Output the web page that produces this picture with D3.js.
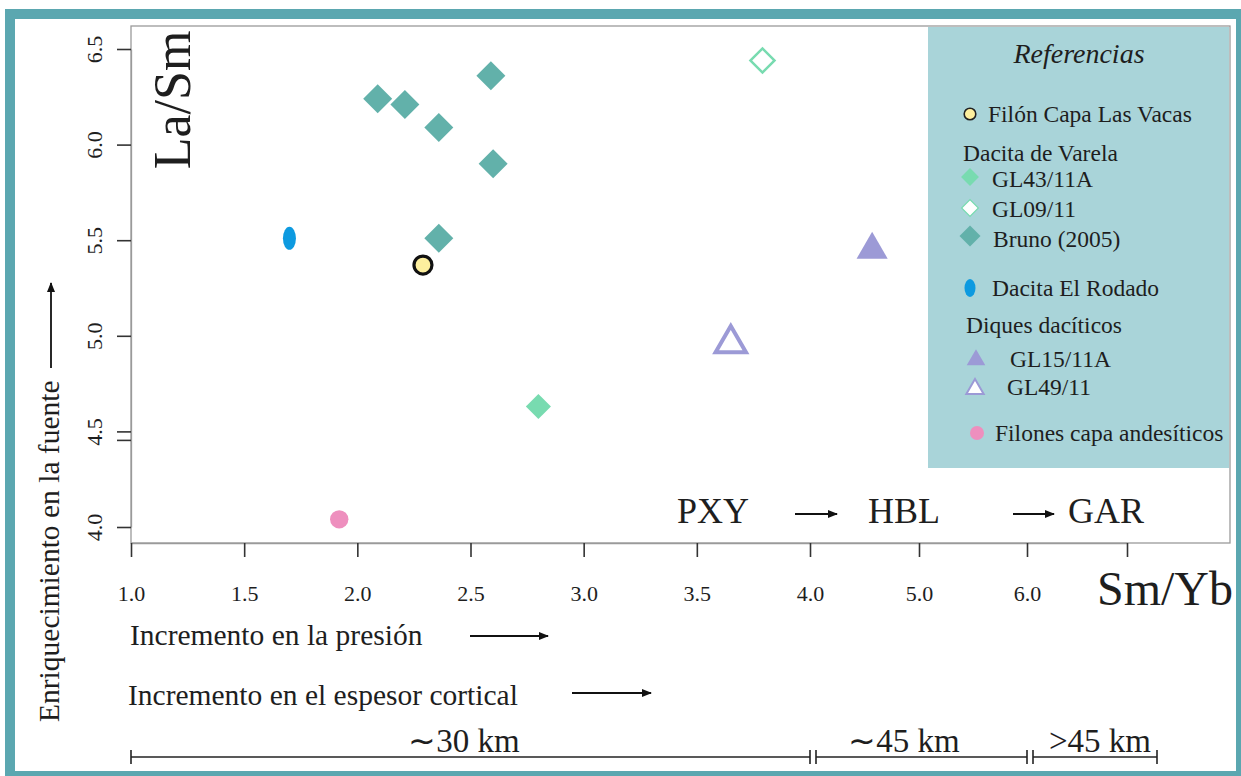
<!DOCTYPE html>
<html>
<head>
<meta charset="utf-8">
<script src="https://cdn.jsdelivr.net/npm/d3@7/dist/d3.min.js"></script>
<style>
  html, body { margin: 0; padding: 0; background: #ffffff; }
  svg { display: block; }
  text { font-family: "Liberation Serif", "Times New Roman", serif; fill: #1e1e1e; }
</style>
</head>
<body>
<svg id="chart" width="1241" height="776"></svg>
<script>
// Sm/Yb (x) vs La/Sm (y) for each group of samples
const filonLasVacas      = [[2.29, 5.37]];
const dacitaElRodado     = [[1.70, 5.51]];
const gl43_11A           = [[2.80, 4.63]];
const gl09_11            = [[3.79, 6.44]];
const bruno2005          = [[2.09, 6.24], [2.21, 6.21], [2.36, 6.09], [2.59, 6.36], [2.60, 5.90], [2.36, 5.51]];
const gl15_11A           = [[4.57, 5.45]];
const gl49_11            = [[3.65, 4.96]];
const filonesAndesiticos = [[1.92, 4.04]];

// Axis ticks
const xTicks      = [1.0, 1.5, 2.0, 2.5, 3.0, 3.5, 4.0, 5.0, 6.0, 7.0];
const xTickLabels = ["1.0", "1.5", "2.0", "2.5", "3.0", "3.5", "4.0", "5.0", "6.0", ""];
const yTicks      = [4.0, 4.5, 5.0, 5.5, 6.0, 6.5];

// Crustal thickness ranges along Sm/Yb
const thicknessBreaks = [1.0, 4.0, 6.0, 7.3];
const thicknessLabels = ["\u223C30 km", "\u223C45 km", ">45 km"];

// Residual mineral sequence
const mineralLabels = ["PXY", "HBL", "GAR"];

const colors = {
  frame: "#5ba7b0",
  legendBg: "#a9d4d9",
  bruno: "#62b1aa",
  varelaGreen: "#78dbb0",
  rodado: "#0d9ae0",
  vacas: "#fdef9e",
  diques: "#9c9ad6",
  andesitic: "#ee8fbe"
};

const svg = d3.select("#chart");
const W = 1241, H = 776;

svg.append("rect").attr("width", W).attr("height", H).attr("fill", "#ffffff");

// arrowhead
svg.append("defs").append("marker")
  .attr("id", "arrow").attr("viewBox", "0 0 10 10")
  .attr("refX", 9).attr("refY", 5)
  .attr("markerWidth", 10).attr("markerHeight", 10)
  .attr("markerUnits", "userSpaceOnUse")
  .attr("orient", "auto")
  .append("path").attr("d", "M0,1 L10,5 L0,9 Z").attr("fill", "#111");

// outer frame
svg.append("rect")
  .attr("x", 10).attr("y", 14).attr("width", 1231).attr("height", 762)
  .attr("fill", "none").attr("stroke", colors.frame).attr("stroke-width", 10);

// scales: Sm/Yb axis is compressed above 4.0
const x = d3.scaleLinear().domain([1, 4, 5, 6, 7]).range([131, 810, 919, 1027, 1127]);
const y = d3.scaleLinear().domain([4, 6.5]).range([527, 49]);

const plot = { left: 131, right: 1230, top: 26, bottom: 543 };

// plot box
svg.append("rect")
  .attr("x", plot.left).attr("y", plot.top)
  .attr("width", plot.right - plot.left).attr("height", plot.bottom - plot.top)
  .attr("fill", "#ffffff").attr("stroke", "#9a9a9a").attr("stroke-width", 1.3);

// x axis
const xAxis = svg.append("g").attr("transform", `translate(0,${plot.bottom})`)
  .call(d3.axisBottom(x).tickValues(xTicks)
    .tickFormat((d, i) => xTickLabels[i]).tickSizeInner(14).tickSizeOuter(0).tickPadding(40));
xAxis.select(".domain").attr("stroke", "#9a9a9a").attr("stroke-width", 1.3);
xAxis.selectAll(".tick line").attr("stroke", "#333").attr("stroke-width", 1.6);
xAxis.selectAll(".tick text")
  .attr("font-family", "Liberation Serif, serif").attr("font-size", 22)
  .attr("fill", "#1e1e1e").attr("dy", "0.2em");

// y axis
const yAxis = svg.append("g").attr("transform", `translate(${plot.left},0)`)
  .call(d3.axisLeft(y).tickValues(yTicks).tickFormat(d3.format(".1f"))
    .tickSizeInner(14).tickSizeOuter(0).tickPadding(0));
yAxis.select(".domain").attr("stroke", "#9a9a9a").attr("stroke-width", 1.3);
yAxis.selectAll(".tick line").attr("stroke", "#333").attr("stroke-width", 1.6);
yAxis.selectAll(".tick text")
  .attr("font-family", "Liberation Serif, serif").attr("font-size", 22).attr("fill", "#1e1e1e")
  .attr("x", null).attr("dy", null)
  .attr("text-anchor", "middle")
  .attr("transform", `translate(-29,0) rotate(-90)`);
// second short tick just under 4.5
yAxis.append("line")
  .attr("x1", -14).attr("x2", 0)
  .attr("y1", y(4.5) + 9).attr("y2", y(4.5) + 9)
  .attr("stroke", "#333").attr("stroke-width", 1.6);

// axis titles
svg.append("text")
  .attr("transform", `translate(190,100) rotate(-90)`)
  .attr("text-anchor", "middle").attr("font-size", 52)
  .text("La/Sm");
svg.append("text")
  .attr("x", 1097).attr("y", 605).attr("font-size", 48)
  .text("Sm/Yb");

// mineral sequence
const mineralX = [677, 868, 1068];
svg.selectAll("text.mineral").data(mineralLabels).join("text")
  .attr("class", "mineral")
  .attr("x", (d, i) => mineralX[i]).attr("y", 523).attr("font-size", 36)
  .text(d => d);
[[795, 837], [1013, 1054]].forEach(([a, b]) => {
  svg.append("line").attr("x1", a).attr("x2", b).attr("y1", 514).attr("y2", 514)
    .attr("stroke", "#111").attr("stroke-width", 1.8).attr("marker-end", "url(#arrow)");
});

// data marks
const diamond = (size) => d3.symbol().type(d3.symbolSquare).size(size)();
const triangle = (size) => d3.symbol().type(d3.symbolTriangle).size(size)();
const pos = d => `translate(${x(d[0])},${y(d[1])})`;

const marks = svg.append("g");

marks.selectAll(".bruno").data(bruno2005).join("path")
  .attr("d", diamond(420))
  .attr("transform", d => pos(d) + " rotate(45)")
  .attr("fill", colors.bruno);

marks.selectAll(".gl43").data(gl43_11A).join("path")
  .attr("d", diamond(315))
  .attr("transform", d => pos(d) + " rotate(45)")
  .attr("fill", colors.varelaGreen);

marks.selectAll(".gl09").data(gl09_11).join("path")
  .attr("d", diamond(290))
  .attr("transform", d => pos(d) + " rotate(45)")
  .attr("fill", "#ffffff").attr("stroke", colors.varelaGreen).attr("stroke-width", 2.5);

marks.selectAll(".rodado").data(dacitaElRodado).join("ellipse")
  .attr("cx", d => x(d[0])).attr("cy", d => y(d[1]))
  .attr("rx", 6.5).attr("ry", 11.5)
  .attr("fill", colors.rodado);

marks.selectAll(".vacas").data(filonLasVacas).join("circle")
  .attr("cx", d => x(d[0])).attr("cy", d => y(d[1]))
  .attr("r", 9).attr("fill", colors.vacas)
  .attr("stroke", "#111").attr("stroke-width", 3.2);

marks.selectAll(".gl15").data(gl15_11A).join("path")
  .attr("d", triangle(420))
  .attr("transform", pos)
  .attr("fill", colors.diques);

marks.selectAll(".gl49").data(gl49_11).join("path")
  .attr("d", triangle(400))
  .attr("transform", pos)
  .attr("fill", "#ffffff").attr("stroke", colors.diques).attr("stroke-width", 4);

marks.selectAll(".andes").data(filonesAndesiticos).join("circle")
  .attr("cx", d => x(d[0])).attr("cy", d => y(d[1]))
  .attr("r", 9.2).attr("fill", colors.andesitic);

// legend
const legend = svg.append("g");
legend.append("rect")
  .attr("x", 928).attr("y", 27).attr("width", 301).attr("height", 441)
  .attr("fill", colors.legendBg);

legend.append("text")
  .attr("x", 1079).attr("y", 63).attr("text-anchor", "middle")
  .attr("font-size", 28).attr("font-style", "italic")
  .text("Referencias");

const lf = 23.5;
const legendRows = [
  { label: "Filón Capa Las Vacas", tx: 988, ty: 122, mark: "vacas", my: 114, mx: 970 },
  { label: "Dacita de Varela", tx: 963, ty: 161 },
  { label: "GL43/11A", tx: 992, ty: 187, mark: "gl43", mx: 970, my: 177 },
  { label: "GL09/11", tx: 992, ty: 217, mark: "gl09", mx: 970, my: 208 },
  { label: "Bruno (2005)", tx: 993, ty: 247, mark: "bruno", mx: 970, my: 236 },
  { label: "Dacita El Rodado", tx: 992, ty: 296, mark: "rodado", mx: 970, my: 288 },
  { label: "Diques dacíticos", tx: 966, ty: 333 },
  { label: "GL15/11A", tx: 1010, ty: 367, mark: "gl15", mx: 976, my: 360 },
  { label: "GL49/11", tx: 1007, ty: 395, mark: "gl49", mx: 975, my: 389 },
  { label: "Filones capa andesíticos", tx: 995, ty: 441, mark: "andes", mx: 977, my: 433 }
];

legend.selectAll("text.item").data(legendRows).join("text")
  .attr("class", "item")
  .attr("x", d => d.tx).attr("y", d => d.ty).attr("font-size", lf)
  .text(d => d.label);

legendRows.filter(d => d.mark).forEach(d => {
  const t = `translate(${d.mx},${d.my})`;
  if (d.mark === "vacas") {
    legend.append("circle").attr("cx", d.mx).attr("cy", d.my).attr("r", 5.8)
      .attr("fill", colors.vacas).attr("stroke", "#222").attr("stroke-width", 1.6);
  } else if (d.mark === "gl43") {
    legend.append("path").attr("d", diamond(160)).attr("transform", t + " rotate(45)")
      .attr("fill", colors.varelaGreen);
  } else if (d.mark === "gl09") {
    legend.append("path").attr("d", diamond(140)).attr("transform", t + " rotate(45)")
      .attr("fill", "#ffffff").attr("stroke", colors.varelaGreen).attr("stroke-width", 1.2);
  } else if (d.mark === "bruno") {
    legend.append("path").attr("d", diamond(220)).attr("transform", t + " rotate(45)")
      .attr("fill", colors.bruno);
  } else if (d.mark === "rodado") {
    legend.append("ellipse").attr("cx", d.mx).attr("cy", d.my).attr("rx", 5.5).attr("ry", 9)
      .attr("fill", colors.rodado);
  } else if (d.mark === "gl15") {
    legend.append("path").attr("d", triangle(150)).attr("transform", t)
      .attr("fill", colors.diques);
  } else if (d.mark === "gl49") {
    legend.append("path").attr("d", triangle(130)).attr("transform", t)
      .attr("fill", "#ffffff").attr("stroke", colors.diques).attr("stroke-width", 2);
  } else if (d.mark === "andes") {
    legend.append("circle").attr("cx", d.mx).attr("cy", d.my).attr("r", 7)
      .attr("fill", colors.andesitic);
  }
});

// y-side annotation
svg.append("text")
  .attr("transform", "translate(59,722) rotate(-90)")
  .attr("font-size", 29.5)
  .text("Enriquecimiento en la fuente");
svg.append("line").attr("x1", 51).attr("x2", 51).attr("y1", 368).attr("y2", 283)
  .attr("stroke", "#111").attr("stroke-width", 1.8).attr("marker-end", "url(#arrow)");

// bottom annotations
svg.append("text").attr("x", 130).attr("y", 645).attr("font-size", 29.5)
  .text("Incremento en la presión");
svg.append("line").attr("x1", 470).attr("x2", 548).attr("y1", 636).attr("y2", 636)
  .attr("stroke", "#111").attr("stroke-width", 1.8).attr("marker-end", "url(#arrow)");

svg.append("text").attr("x", 128).attr("y", 705).attr("font-size", 29.5)
  .text("Incremento en el espesor cortical");
svg.append("line").attr("x1", 572).attr("x2", 651).attr("y1", 693).attr("y2", 693)
  .attr("stroke", "#111").attr("stroke-width", 1.8).attr("marker-end", "url(#arrow)");

// crustal thickness bar
const barY = 757;
const bar = svg.append("g").attr("stroke", "#222").attr("stroke-width", 1.6);
const gap = 6;
for (let i = 0; i < thicknessBreaks.length - 1; i++) {
  const a = x(thicknessBreaks[i]) + (i > 0 ? gap : 0);
  const b = x(thicknessBreaks[i + 1]);
  bar.append("line").attr("x1", a).attr("x2", b).attr("y1", barY).attr("y2", barY);
  bar.append("line").attr("x1", a).attr("x2", a).attr("y1", barY - 7).attr("y2", barY + 7);
  bar.append("line").attr("x1", b).attr("x2", b).attr("y1", barY - 7).attr("y2", barY + 7);
}
const thicknessLabelX = [464, 904, 1100];
svg.selectAll("text.thick").data(thicknessLabels).join("text")
  .attr("class", "thick")
  .attr("x", (d, i) => thicknessLabelX[i]).attr("y", 752)
  .attr("text-anchor", "middle").attr("font-size", 33)
  .text(d => d);
</script>
</body>
</html>
